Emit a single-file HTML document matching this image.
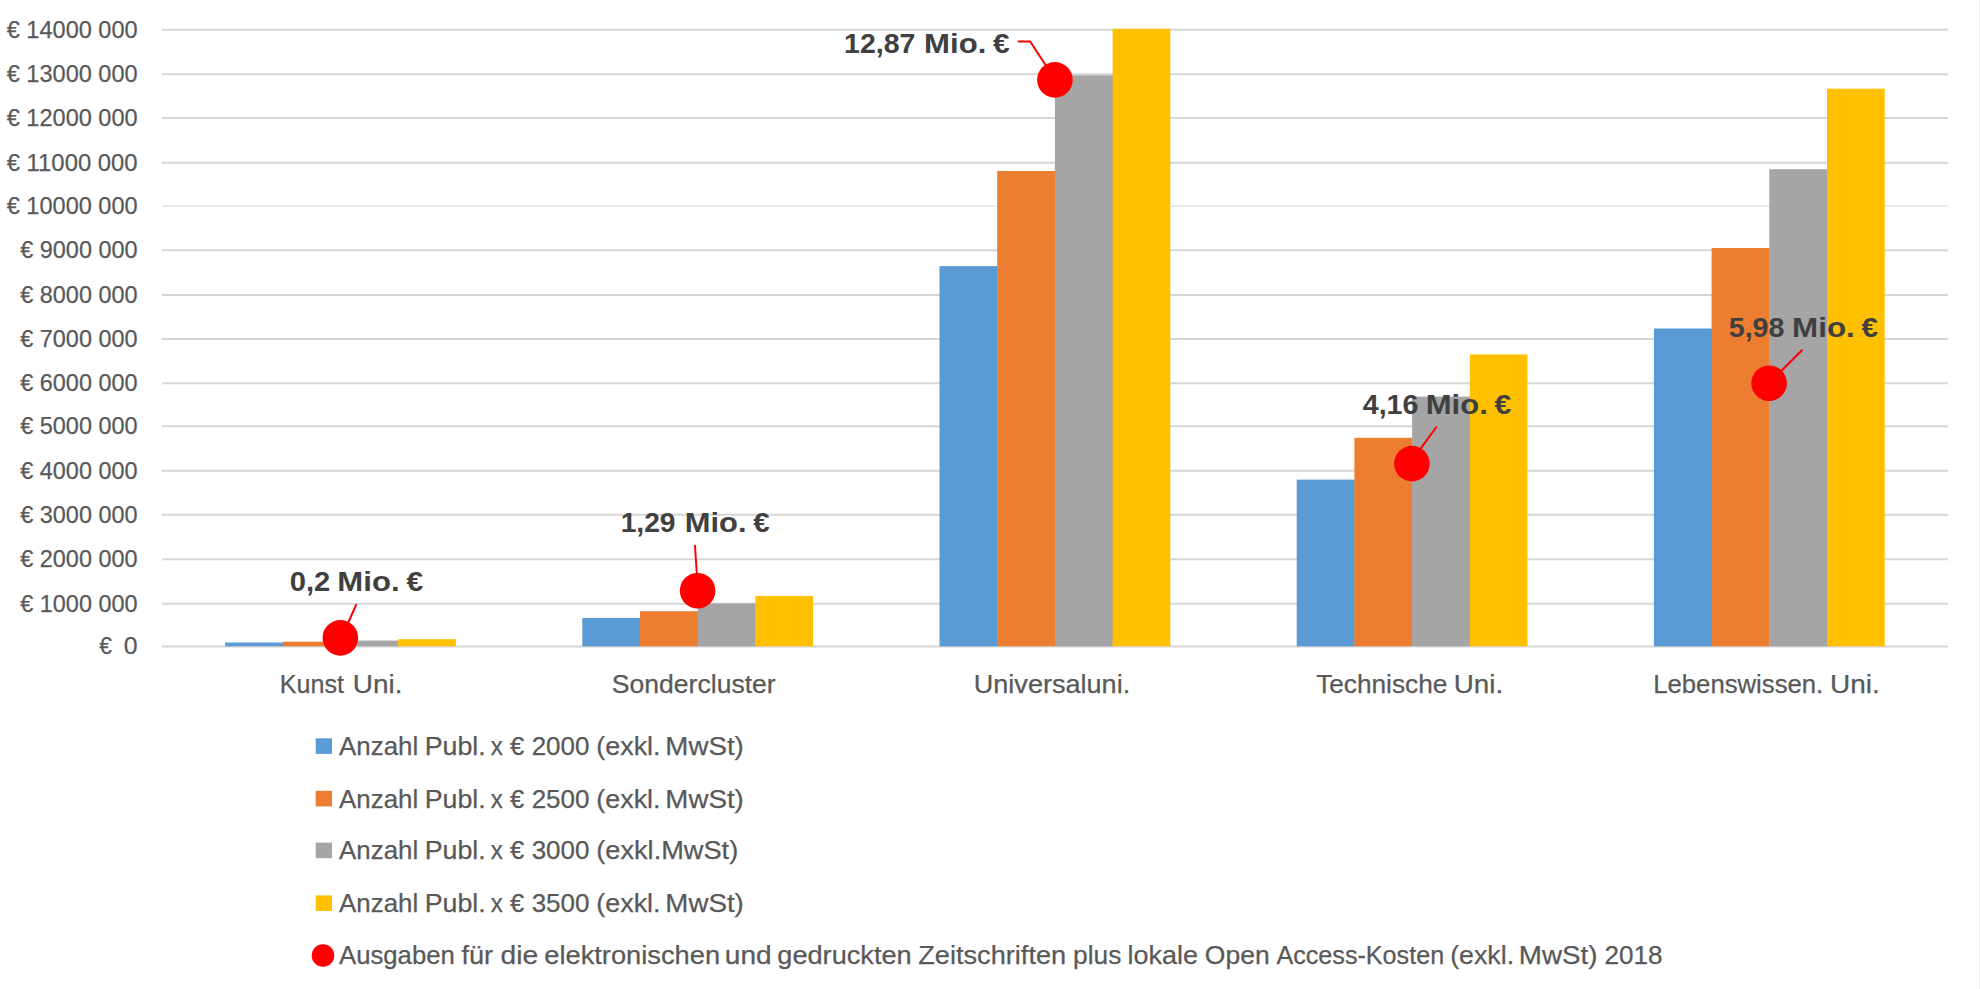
<!DOCTYPE html>
<html lang="de"><head><meta charset="utf-8"><title>Publikationskosten nach Universitätscluster</title>
<style>html,body{margin:0;padding:0;background:#fff}body{width:1980px;height:989px;overflow:hidden}svg{display:block}text{font-family:"Liberation Sans",sans-serif;white-space:pre}.ax{fill:#595959;font-size:25px;stroke:#595959;stroke-width:.25px}.ay{fill:#595959;font-size:24px;stroke:#595959;stroke-width:.25px}.dl{fill:#404040;font-size:28.5px;font-weight:bold}</style></head><body>
<svg width="1980" height="989" viewBox="0 0 1980 989">
<rect width="1980" height="989" fill="#fff"/>
<rect x="1979" y="0" width="1" height="989" fill="#ECECEC"/>
<g stroke="#D6D6D6" stroke-width="2">
<line x1="161.9" x2="1947.8" y1="646.60" y2="646.60"/>
<line x1="161.9" x2="1947.8" y1="603.70" y2="603.70"/>
<line x1="161.9" x2="1947.8" y1="559.20" y2="559.20"/>
<line x1="161.9" x2="1947.8" y1="514.70" y2="514.70"/>
<line x1="161.9" x2="1947.8" y1="470.70" y2="470.70"/>
<line x1="161.9" x2="1947.8" y1="426.20" y2="426.20"/>
<line x1="161.9" x2="1947.8" y1="383.20" y2="383.20"/>
<line x1="161.9" x2="1947.8" y1="339.10" y2="339.10"/>
<line x1="161.9" x2="1947.8" y1="294.90" y2="294.90"/>
<line x1="161.9" x2="1947.8" y1="250.20" y2="250.20"/>
<line x1="161.9" x2="1947.8" y1="206.05" y2="206.05" stroke-width="1" stroke="#D6D6D6"/>
<line x1="161.9" x2="1947.8" y1="162.80" y2="162.80"/>
<line x1="161.9" x2="1947.8" y1="118.10" y2="118.10"/>
<line x1="161.9" x2="1947.8" y1="74.20" y2="74.20"/>
<line x1="161.9" x2="1947.8" y1="29.70" y2="29.70"/>
</g>
<text class="ay" y="654.40" xml:space="preserve"><tspan x="99.33" textLength="12.63" lengthAdjust="spacingAndGlyphs">€</tspan> <tspan x="123.77" textLength="13.82" lengthAdjust="spacingAndGlyphs">0</tspan></text>
<text class="ay" x="20.22" y="611.50" textLength="117.35" lengthAdjust="spacingAndGlyphs" xml:space="preserve">€ 1000 000</text>
<text class="ay" x="20.22" y="567.00" textLength="117.35" lengthAdjust="spacingAndGlyphs" xml:space="preserve">€ 2000 000</text>
<text class="ay" x="20.22" y="522.50" textLength="117.35" lengthAdjust="spacingAndGlyphs" xml:space="preserve">€ 3000 000</text>
<text class="ay" x="20.22" y="478.50" textLength="117.35" lengthAdjust="spacingAndGlyphs" xml:space="preserve">€ 4000 000</text>
<text class="ay" x="20.22" y="434.00" textLength="117.35" lengthAdjust="spacingAndGlyphs" xml:space="preserve">€ 5000 000</text>
<text class="ay" x="20.22" y="391.00" textLength="117.35" lengthAdjust="spacingAndGlyphs" xml:space="preserve">€ 6000 000</text>
<text class="ay" x="20.22" y="346.90" textLength="117.35" lengthAdjust="spacingAndGlyphs" xml:space="preserve">€ 7000 000</text>
<text class="ay" x="20.22" y="302.70" textLength="117.35" lengthAdjust="spacingAndGlyphs" xml:space="preserve">€ 8000 000</text>
<text class="ay" x="20.22" y="258.00" textLength="117.35" lengthAdjust="spacingAndGlyphs" xml:space="preserve">€ 9000 000</text>
<text class="ay" x="6.72" y="213.85" textLength="130.92" lengthAdjust="spacingAndGlyphs" xml:space="preserve">€ 10000 000</text>
<text class="ay" x="6.71" y="170.60" textLength="130.89" lengthAdjust="spacingAndGlyphs" xml:space="preserve">€ 11000 000</text>
<text class="ay" x="6.72" y="125.90" textLength="130.92" lengthAdjust="spacingAndGlyphs" xml:space="preserve">€ 12000 000</text>
<text class="ay" x="6.72" y="82.00" textLength="130.92" lengthAdjust="spacingAndGlyphs" xml:space="preserve">€ 13000 000</text>
<text class="ay" x="6.72" y="37.50" textLength="130.92" lengthAdjust="spacingAndGlyphs" xml:space="preserve">€ 14000 000</text>
<rect x="225.10" y="642.50" width="58.1" height="3.80" fill="#5B9BD5"/>
<rect x="282.80" y="641.70" width="58.1" height="4.60" fill="#ED7D31"/>
<rect x="340.50" y="640.60" width="58.1" height="5.70" fill="#A5A5A5"/>
<rect x="398.20" y="639.20" width="57.7" height="7.10" fill="#FFC000"/>
<rect x="582.30" y="618.00" width="58.1" height="28.30" fill="#5B9BD5"/>
<rect x="640.00" y="611.20" width="58.1" height="35.10" fill="#ED7D31"/>
<rect x="697.70" y="603.40" width="58.1" height="42.90" fill="#A5A5A5"/>
<rect x="755.40" y="595.90" width="57.7" height="50.40" fill="#FFC000"/>
<rect x="939.50" y="266.10" width="58.1" height="380.20" fill="#5B9BD5"/>
<rect x="997.20" y="171.00" width="58.1" height="475.30" fill="#ED7D31"/>
<rect x="1054.90" y="75.30" width="58.1" height="571.00" fill="#A5A5A5"/>
<rect x="1112.60" y="28.70" width="57.7" height="617.60" fill="#FFC000"/>
<rect x="1296.70" y="479.60" width="58.1" height="166.70" fill="#5B9BD5"/>
<rect x="1354.40" y="437.80" width="58.1" height="208.50" fill="#ED7D31"/>
<rect x="1412.10" y="396.60" width="58.1" height="249.70" fill="#A5A5A5"/>
<rect x="1469.80" y="354.40" width="57.7" height="291.90" fill="#FFC000"/>
<rect x="1653.90" y="328.50" width="58.1" height="317.80" fill="#5B9BD5"/>
<rect x="1711.60" y="248.00" width="58.1" height="398.30" fill="#ED7D31"/>
<rect x="1769.30" y="169.20" width="58.1" height="477.10" fill="#A5A5A5"/>
<rect x="1827.00" y="88.70" width="57.7" height="557.60" fill="#FFC000"/>
<text class="ax" y="693.00" xml:space="preserve"><tspan x="279.79" textLength="64.13" lengthAdjust="spacingAndGlyphs">Kunst</tspan> <tspan x="352.76" textLength="49.71" lengthAdjust="spacingAndGlyphs">Uni.</tspan></text>
<text class="ax" x="611.8" y="693.00" textLength="163.88" lengthAdjust="spacingAndGlyphs" xml:space="preserve">Sondercluster</text>
<text class="ax" x="973.73" y="693.00" textLength="156.51" lengthAdjust="spacingAndGlyphs" xml:space="preserve">Universaluni.</text>
<text class="ax" y="693.00" xml:space="preserve"><tspan x="1316.15" textLength="131.18" lengthAdjust="spacingAndGlyphs">Technische</tspan> <tspan x="1453.67" textLength="49.49" lengthAdjust="spacingAndGlyphs">Uni.</tspan></text>
<text class="ax" y="693.00" xml:space="preserve"><tspan x="1653.24" textLength="170.04" lengthAdjust="spacingAndGlyphs">Lebenswissen.</tspan> <tspan x="1829.96" textLength="49.82" lengthAdjust="spacingAndGlyphs">Uni.</tspan></text>
<g stroke="#FF0000" stroke-width="2" fill="none">
<path d="M356.4 604.2L346.5 626.5"/>
<path d="M694.9 545L697 576"/>
<path d="M1017.7 41.4H1030.2L1047.5 68"/>
<path d="M1436.7 426.5L1418.5 451.6"/>
<path d="M1802.4 349.8L1779 373.3"/>
</g>
<g fill="#FF0000">
<circle cx="340.35" cy="637.9" r="17.8"/>
<circle cx="697.6" cy="590.7" r="17.8"/>
<circle cx="1054.9" cy="79.9" r="17.8"/>
<circle cx="1411.9" cy="463.6" r="17.8"/>
<circle cx="1769.1" cy="383.2" r="17.8"/>
</g>
<text class="dl" y="591.20" xml:space="preserve"><tspan x="289.8" textLength="40.46" lengthAdjust="spacingAndGlyphs">0,2</tspan> <tspan x="337.33" textLength="62.25" lengthAdjust="spacingAndGlyphs">Mio.</tspan> <tspan x="406.57" textLength="16.73" lengthAdjust="spacingAndGlyphs">€</tspan></text>
<text class="dl" y="531.90" xml:space="preserve"><tspan x="620.65" textLength="54.84" lengthAdjust="spacingAndGlyphs">1,29</tspan> <tspan x="684.85" textLength="61.72" lengthAdjust="spacingAndGlyphs">Mio.</tspan> <tspan x="753.27" textLength="16.41" lengthAdjust="spacingAndGlyphs">€</tspan></text>
<text class="dl" y="52.60" xml:space="preserve"><tspan x="844.02" textLength="71.4" lengthAdjust="spacingAndGlyphs">12,87</tspan> <tspan x="924.13" textLength="62.25" lengthAdjust="spacingAndGlyphs">Mio.</tspan> <tspan x="993.07" textLength="16.62" lengthAdjust="spacingAndGlyphs">€</tspan></text>
<text class="dl" y="414.00" xml:space="preserve"><tspan x="1362.71" textLength="55.78" lengthAdjust="spacingAndGlyphs">4,16</tspan> <tspan x="1425.84" textLength="61.93" lengthAdjust="spacingAndGlyphs">Mio.</tspan> <tspan x="1494.47" textLength="16.83" lengthAdjust="spacingAndGlyphs">€</tspan></text>
<text class="dl" y="336.50" xml:space="preserve"><tspan x="1728.69" textLength="55.86" lengthAdjust="spacingAndGlyphs">5,98</tspan> <tspan x="1792.12" textLength="62.68" lengthAdjust="spacingAndGlyphs">Mio.</tspan> <tspan x="1861.47" textLength="16.41" lengthAdjust="spacingAndGlyphs">€</tspan></text>
<rect x="315.7" y="738.3" width="16.3" height="15.6" fill="#5B9BD5"/>
<rect x="315.7" y="790.8" width="16.3" height="15.6" fill="#ED7D31"/>
<rect x="315.7" y="842.6" width="16.3" height="15.6" fill="#A5A5A5"/>
<rect x="315.7" y="895.4" width="16.3" height="15.6" fill="#FFC000"/>
<circle cx="323" cy="955.5" r="11.3" fill="#FF0000"/>
<text class="ax" y="754.80" xml:space="preserve"><tspan x="339.11" textLength="79.05" lengthAdjust="spacingAndGlyphs">Anzahl</tspan> <tspan x="424.76" textLength="60.97" lengthAdjust="spacingAndGlyphs">Publ.</tspan> <tspan x="490.85" textLength="12.09" lengthAdjust="spacingAndGlyphs">x</tspan> <tspan x="509.95" textLength="14.16" lengthAdjust="spacingAndGlyphs">€</tspan> <tspan x="531.67" textLength="57.82" lengthAdjust="spacingAndGlyphs">2000</tspan> <tspan x="596.26" textLength="64.31" lengthAdjust="spacingAndGlyphs">(exkl.</tspan> <tspan x="665.39" textLength="78.44" lengthAdjust="spacingAndGlyphs">MwSt)</tspan></text>
<text class="ax" y="807.70" xml:space="preserve"><tspan x="339.11" textLength="79.05" lengthAdjust="spacingAndGlyphs">Anzahl</tspan> <tspan x="424.76" textLength="60.97" lengthAdjust="spacingAndGlyphs">Publ.</tspan> <tspan x="490.85" textLength="12.09" lengthAdjust="spacingAndGlyphs">x</tspan> <tspan x="509.95" textLength="14.16" lengthAdjust="spacingAndGlyphs">€</tspan> <tspan x="531.67" textLength="57.82" lengthAdjust="spacingAndGlyphs">2500</tspan> <tspan x="596.26" textLength="64.31" lengthAdjust="spacingAndGlyphs">(exkl.</tspan> <tspan x="665.39" textLength="78.44" lengthAdjust="spacingAndGlyphs">MwSt)</tspan></text>
<text class="ax" y="859.20" xml:space="preserve"><tspan x="339.11" textLength="79.05" lengthAdjust="spacingAndGlyphs">Anzahl</tspan> <tspan x="424.76" textLength="60.97" lengthAdjust="spacingAndGlyphs">Publ.</tspan> <tspan x="490.85" textLength="12.09" lengthAdjust="spacingAndGlyphs">x</tspan> <tspan x="509.95" textLength="14.16" lengthAdjust="spacingAndGlyphs">€</tspan> <tspan x="531.67" textLength="57.81" lengthAdjust="spacingAndGlyphs">3000</tspan> <tspan x="596.25" textLength="141.95" lengthAdjust="spacingAndGlyphs">(exkl.MwSt)</tspan></text>
<text class="ax" y="912.00" xml:space="preserve"><tspan x="339.11" textLength="79.05" lengthAdjust="spacingAndGlyphs">Anzahl</tspan> <tspan x="424.76" textLength="60.97" lengthAdjust="spacingAndGlyphs">Publ.</tspan> <tspan x="490.85" textLength="12.09" lengthAdjust="spacingAndGlyphs">x</tspan> <tspan x="509.95" textLength="14.16" lengthAdjust="spacingAndGlyphs">€</tspan> <tspan x="531.67" textLength="57.81" lengthAdjust="spacingAndGlyphs">3500</tspan> <tspan x="596.26" textLength="64.31" lengthAdjust="spacingAndGlyphs">(exkl.</tspan> <tspan x="665.39" textLength="78.44" lengthAdjust="spacingAndGlyphs">MwSt)</tspan></text>
<text class="ax" y="964.20" xml:space="preserve"><tspan x="339.01" textLength="115.84" lengthAdjust="spacingAndGlyphs">Ausgaben</tspan> <tspan x="461.47" textLength="31.65" lengthAdjust="spacingAndGlyphs">für</tspan> <tspan x="500.47" textLength="37.66" lengthAdjust="spacingAndGlyphs">die</tspan> <tspan x="544.26" textLength="175.82" lengthAdjust="spacingAndGlyphs">elektronischen</tspan> <tspan x="724.82" textLength="46.81" lengthAdjust="spacingAndGlyphs">und</tspan> <tspan x="777.31" textLength="134.34" lengthAdjust="spacingAndGlyphs">gedruckten</tspan> <tspan x="918.16" textLength="148.07" lengthAdjust="spacingAndGlyphs">Zeitschriften</tspan> <tspan x="1073.12" textLength="48.2" lengthAdjust="spacingAndGlyphs">plus</tspan> <tspan x="1127.51" textLength="70.41" lengthAdjust="spacingAndGlyphs">lokale</tspan> <tspan x="1204.85" textLength="64.83" lengthAdjust="spacingAndGlyphs">Open</tspan> <tspan x="1276.42" textLength="167.74" lengthAdjust="spacingAndGlyphs">Access-Kosten</tspan> <tspan x="1450.17" textLength="63.99" lengthAdjust="spacingAndGlyphs">(exkl.</tspan> <tspan x="1518.88" textLength="78.65" lengthAdjust="spacingAndGlyphs">MwSt)</tspan> <tspan x="1604.46" textLength="58.05" lengthAdjust="spacingAndGlyphs">2018</tspan></text>
</svg></body></html>
